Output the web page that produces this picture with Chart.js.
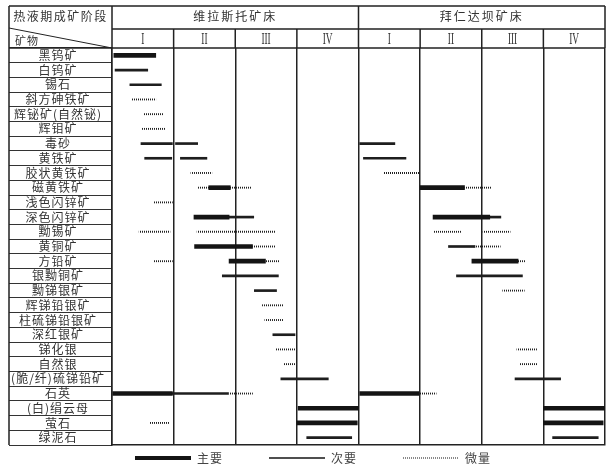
<!DOCTYPE html>
<html><head><meta charset="utf-8">
<script src="https://cdn.jsdelivr.net/npm/chart.js@4/dist/chart.umd.min.js"></script>
<style>html,body{margin:0;padding:0;background:#fff;}</style>
</head><body>
<canvas id="c" width="615" height="472"></canvas>
<script>
// ---------- data ----------
const minerals = ['黑钨矿','白钨矿','锡石','斜方砷铁矿','辉铋矿(自然铋)','辉钼矿','毒砂','黄铁矿','胶状黄铁矿','磁黄铁矿','浅色闪锌矿','深色闪锌矿','黝锡矿','黄铜矿','方铅矿','银黝铜矿','黝锑银矿','辉锑铅银矿','柱硫锑铅银矿','深红银矿','锑化银','自然银','(脆/纤)硫锑铅矿','石英','(白)绢云母','萤石','绿泥石'];
const deposits = ['维拉斯托矿床','拜仁达坝矿床'];
const stageLabels = ['I','II','III','IV'];
const cornerTop = '热液期成矿阶段';
const cornerBottom = '矿物';
const legendLabels = ['主要','次要','微量'];
// [mineral index, start, end] in stage units: 0-4 = 维拉斯托 I-IV, 4-8 = 拜仁达坝 I-IV
const majorSegs = [
  [0,0.03,0.71],
  [9,1.57,1.92],[9,5.00,5.72],
  [11,1.33,1.90],[11,5.21,6.13],
  [13,1.34,2.28],
  [14,1.90,2.49],[14,5.84,6.59],
  [23,0.00,0.98],[23,4.02,4.98],
  [24,3.02,4.00],[24,7.00,8.00],
  [25,3.00,3.98],[25,7.00,7.97]
];
const minorSegs = [
  [1,0.05,0.58],
  [2,0.29,0.80],
  [6,0.47,0.98],[6,1.03,1.39],[6,4.02,4.59],
  [7,0.53,0.97],[7,1.11,1.54],[7,4.08,4.77],
  [11,1.90,2.30],[11,6.13,6.31],
  [13,5.46,5.89],
  [15,1.79,2.70],[15,5.59,6.66],
  [16,2.31,2.67],
  [19,2.61,2.97],
  [22,2.74,3.51],[22,6.54,7.28],
  [23,0.98,1.89],
  [26,3.16,3.89],[26,7.15,7.89]
];
const traceSegs = [
  [3,0.32,0.71],
  [4,0.52,0.83],
  [5,0.48,0.86],
  [8,1.28,1.62],[8,4.41,4.98],
  [9,1.39,1.57],[9,1.92,2.26],[9,5.72,6.16],
  [10,0.68,0.98],
  [12,0.44,0.94],[12,1.38,2.64],[12,5.23,5.66],[12,6.02,6.46],
  [13,2.28,2.64],[13,5.89,6.30],
  [14,0.68,0.98],[14,2.49,2.72],[14,6.59,6.70],
  [16,6.34,6.69],
  [17,2.44,2.77],
  [18,2.48,2.77],
  [20,2.66,2.97],[20,6.57,6.89],
  [21,2.79,2.97],[21,6.61,6.90],
  [23,1.90,2.28],[23,4.98,5.26],
  [25,0.61,0.92]
];

// ---------- helpers ----------
const toPoints = segs => segs.map(([i,a,b]) => ({y: minerals[i], x: [a,b]}));
const dotCanvas = document.createElement('canvas');
dotCanvas.width = 2; dotCanvas.height = 1;
const dctx = dotCanvas.getContext('2d');
dctx.fillStyle = '#222'; dctx.fillRect(0,0,1,1);
const dotPattern = dctx.createPattern(dotCanvas, 'repeat');

const LABEL_FONT = '12px "Noto Sans CJK SC"';
const mctx = document.createElement('canvas').getContext('2d');
mctx.font = LABEL_FONT;
const widest = Math.max(...minerals.map(m => mctx.measureText(m).width));
const AXIS_W = 103, LABEL_CENTER = 58;
// label x = axisRight - tickLength - padding - widest/2 ; axisRight - tickLength = table left (9)
const labelPadding = 9 - LABEL_CENTER - widest / 2;

const spacingPlugin = {
  id: 'spacing',
  beforeDraw(chart){ chart.ctx.letterSpacing = '1px'; }
};

const headerPlugin = {
  id: 'header',
  afterDraw(chart){
    const {ctx, chartArea: ca, scales: {x, y}} = chart;
    const L = y.left, T = 6, MID = 29;
    ctx.save();
    ctx.strokeStyle = '#222'; ctx.lineWidth = 1.5;
    ctx.beginPath();
    ctx.moveTo(L, T); ctx.lineTo(ca.right, T);
    ctx.moveTo(L, ca.top); ctx.lineTo(ca.right, ca.top);
    ctx.moveTo(ca.left, MID); ctx.lineTo(ca.right, MID);
    ctx.moveTo(L, T); ctx.lineTo(L, ca.bottom);
    for (let k = 0; k <= 8; k++) {
      const px = x.getPixelForValue(k);
      ctx.moveTo(px, k % 4 === 0 ? T : MID); ctx.lineTo(px, ca.top);
    }
    ctx.stroke();
    ctx.lineWidth = 1;
    ctx.beginPath(); ctx.moveTo(L, MID - 1); ctx.lineTo(ca.left, ca.top); ctx.stroke();

    ctx.fillStyle = '#333';
    ctx.textBaseline = 'middle';
    ctx.textAlign = 'center';
    ctx.font = '12px "Noto Sans CJK SC"';
    ctx.letterSpacing = '1.5px';
    ctx.fillText(cornerTop, (L + ca.left) / 2, 16);
    ctx.letterSpacing = '2px';
    deposits.forEach((d, i) => {
      const cx = (x.getPixelForValue(i * 4) + x.getPixelForValue(i * 4 + 4)) / 2;
      ctx.fillText(d, cx, 16);
    });
    ctx.letterSpacing = '1px';
    ctx.textAlign = 'left';
    ctx.font = '11px "Noto Sans CJK SC"';
    ctx.fillText(cornerBottom, L + 6, 41);

    ctx.letterSpacing = '0px';
    ctx.textAlign = 'center';
    ctx.font = '17px "Liberation Serif"';
    for (let k = 0; k < 8; k++) {
      const cx = x.getPixelForValue(k + 0.5);
      ctx.save();
      ctx.translate(cx, 39);
      ctx.scale(0.55, 1);
      ctx.fillText(stageLabels[k % 4], 0, 1);
      ctx.restore();
    }
    ctx.restore();
  }
};

const legendFitPlugin = {
  id: 'legendFit',
  beforeInit(chart){
    const lg = chart.legend;
    const orig = lg.fit.bind(lg);
    lg.fit = function(){ orig(); this.height = 27; };
  }
};

const SP = '\u3000\u3000\u3000';
new Chart(document.getElementById('c'), {
  type: 'bar',
  data: {
    labels: minerals,
    datasets: [
      {label: legendLabels[0] + SP, data: toPoints(majorSegs), backgroundColor: '#141414', barThickness: 4, grouped: false, order: 0},
      {label: legendLabels[1] + SP, data: toPoints(minorSegs), backgroundColor: '#1e1e1e', barThickness: 2, grouped: false, order: 1},
      {label: legendLabels[2], data: toPoints(traceSegs), backgroundColor: dotPattern, barThickness: 1.2, grouped: false, order: 2}
    ]
  },
  options: {
    indexAxis: 'y',
    responsive: false,
    animation: false,
    layout: {padding: {top: 48, left: 9, right: 10, bottom: 0}},
    scales: {
      x: {
        type: 'linear', min: 0, max: 8,
        ticks: {display: false, stepSize: 1},
        grid: {color: '#222', lineWidth: 1.5, drawTicks: false},
        border: {display: true, color: '#222', width: 1.5}
      },
      y: {
        type: 'category',
        offset: true,
        afterFit: s => { s.width = AXIS_W; },
        ticks: {
          autoSkip: false,
          crossAlign: 'center',
          padding: labelPadding,
          font: {family: '"Noto Sans CJK SC"', size: 12},
          color: '#333'
        },
        grid: {offset: true, drawOnChartArea: false, drawTicks: true, tickLength: AXIS_W, color: '#333', lineWidth: 1},
        border: {display: true, color: '#222', width: 1.5}
      }
    },
    plugins: {
      tooltip: {enabled: false},
      legend: {
        position: 'bottom',
        labels: {
          usePointStyle: true,
          pointStyleWidth: 56,
          padding: 7,
          color: '#444',
          font: {family: '"Noto Sans CJK SC"', size: 12},
          generateLabels: chart => chart.data.datasets.map((ds, i) => ({
            text: ds.label,
            fillStyle: '#141414',
            strokeStyle: '#141414',
            lineWidth: [4, 1.5, 1][i],
            lineDash: i === 2 ? [1, 1] : [],
            pointStyle: 'line',
            hidden: false,
            datasetIndex: i,
            fontColor: '#444'
          }))
        }
      }
    }
  },
  plugins: [spacingPlugin, headerPlugin, legendFitPlugin]
});
</script>
</body></html>
